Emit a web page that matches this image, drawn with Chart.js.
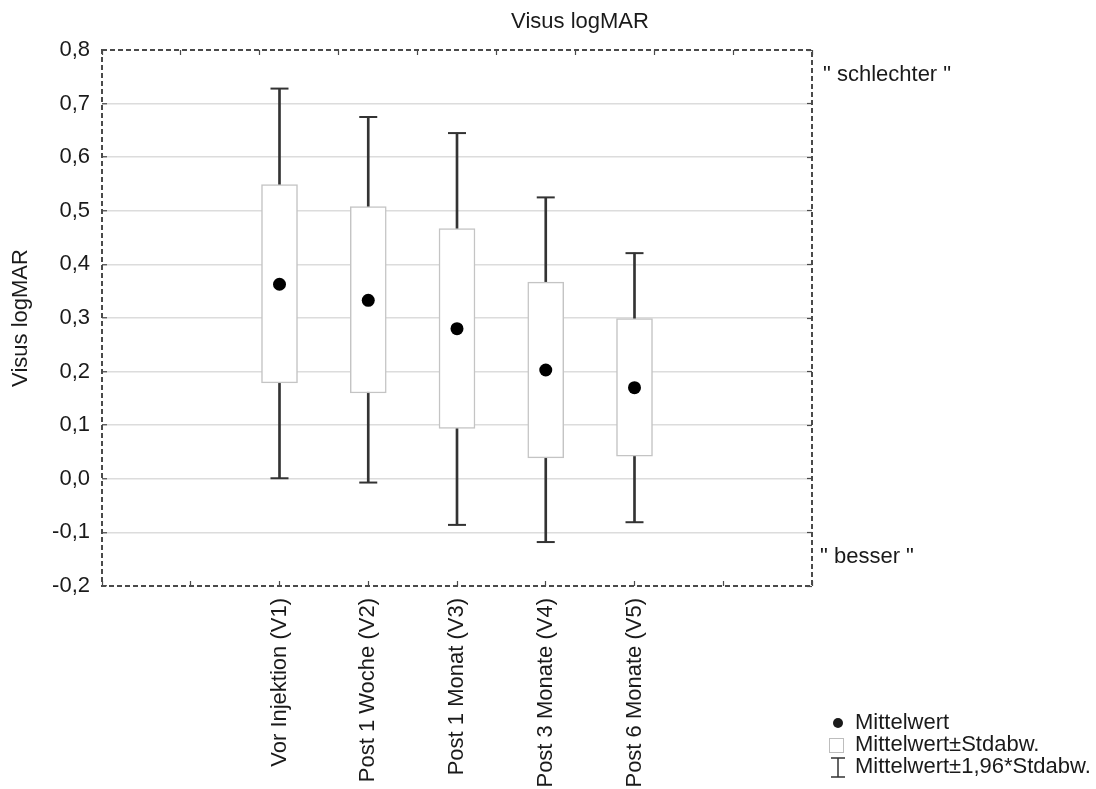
<!DOCTYPE html>
<html>
<head>
<meta charset="utf-8">
<title>Visus logMAR</title>
<script src="https://cdn.jsdelivr.net/npm/chart.js@4.4.0/dist/chart.umd.min.js"></script>
<style>
  html, body { margin: 0; padding: 0; background: #fff; }
  #chart { display: block; }
</style>
</head>
<body>
<canvas id="chart" width="1096" height="789"></canvas>
<script>
// ======== Data ========
const categories = [
  "Vor Injektion (V1)",
  "Post 1 Woche (V2)",
  "Post 1 Monat (V3)",
  "Post 3 Monate (V4)",
  "Post 6 Monate (V5)",
];
const catPositions = [2, 3, 4, 5, 6]; // x slots on the 0..8 axis
const means = [0.363, 0.333, 0.28, 0.203, 0.17];
const sdLow = [0.179, 0.16, 0.094, 0.039, 0.042];
const sdHigh = [0.549, 0.508, 0.467, 0.367, 0.299];
const ciLow = [0.001, -0.007, -0.086, -0.118, -0.081];
const ciHigh = [0.728, 0.675, 0.645, 0.525, 0.421];
const yTicks = { min: -0.2, max: 0.8, step: 0.1 };

const FONT = "'Liberation Sans', Arial, sans-serif";
const TEXT = "#1a1a1a";
const FRAME = "#4a4a4a";

// helpers
const commaNum = (v) => v.toFixed(1).replace(".", ",");
const isEdge = (v) =>
  Math.abs(v - yTicks.min) < 1e-6 || Math.abs(v - yTicks.max) < 1e-6;

// -------------------------
// Dashed frame round the plot area (axis borders are always solid in v4)
// -------------------------
const dashedFrame = {
  id: "dashedFrame",
  beforeDatasetsDraw(chart) {
    const { ctx, chartArea: a } = chart;
    ctx.save();
    ctx.strokeStyle = FRAME;
    ctx.lineWidth = 2;
    ctx.setLineDash([5, 3]);
    ctx.strokeRect(a.left, a.top, a.right - a.left, a.bottom - a.top);
    ctx.restore();
  },
};

// -------------------------
// Extra text: title, side notes, legend
// -------------------------
const annotations = {
  id: "annotations",
  afterDraw(chart) {
    const ctx = chart.ctx;
    ctx.save();
    ctx.fillStyle = TEXT;
    ctx.font = "22px " + FONT;

    ctx.textAlign = "center";
    ctx.textBaseline = "alphabetic";
    ctx.fillText("Visus logMAR", 580, 28);

    ctx.textAlign = "left";
    ctx.textBaseline = "middle";
    ctx.fillText('" schlechter "', 823, 75);
    ctx.fillText('" besser "', 820, 557);

    // legend
    ctx.beginPath();
    ctx.arc(838, 723, 5, 0, Math.PI * 2);
    ctx.fill();
    ctx.fillText("Mittelwert", 855, 723);

    ctx.fillStyle = "#fff";
    ctx.fillRect(829.5, 738.5, 14, 14);
    ctx.strokeStyle = "#bdbdbd";
    ctx.lineWidth = 1;
    ctx.strokeRect(829.5, 738.5, 14, 14);
    ctx.fillStyle = TEXT;
    ctx.fillText("Mittelwert\u00b1Stdabw.", 855, 745);

    ctx.strokeStyle = "#333";
    ctx.lineWidth = 1.5;
    ctx.beginPath();
    ctx.moveTo(831, 758); ctx.lineTo(845, 758);
    ctx.moveTo(838, 758); ctx.lineTo(838, 777);
    ctx.moveTo(831, 777); ctx.lineTo(845, 777);
    ctx.stroke();
    ctx.fillText("Mittelwert\u00b11,96*Stdabw.", 855, 767);

    ctx.restore();
  },
};

// ======== Datasets ========
const meanData = catPositions.map((x, i) => ({ x, y: means[i] }));
const capData = catPositions
  .map((x, i) => [{ x, y: ciHigh[i] }, { x, y: ciLow[i] }])
  .flat();
const boxData = catPositions.map((x, i) => ({ x, y: [sdLow[i], sdHigh[i]] }));
const whiskerData = catPositions.map((x, i) => ({ x, y: [ciLow[i], ciHigh[i]] }));

const noBorder = { display: false };

new Chart(document.getElementById("chart").getContext("2d"), {
  type: "bar",
  data: {
    datasets: [
      {
        type: "scatter",
        label: "Mittelwert",
        data: meanData,
        pointStyle: "circle",
        pointRadius: 6.5,
        pointBorderWidth: 0,
        backgroundColor: "#000",
        order: 0,
      },
      {
        type: "scatter",
        label: "caps",
        data: capData,
        pointStyle: "line",
        pointRadius: 9,
        pointBorderWidth: 2,
        borderColor: "#333",
        order: 1,
      },
      {
        label: "Mittelwert\u00b1Stdabw.",
        data: boxData,
        backgroundColor: "#fff",
        borderColor: "#c4c4c4",
        borderWidth: 1.5,
        borderSkipped: false,
        barThickness: 36,
        grouped: false,
        order: 2,
      },
      {
        label: "Mittelwert\u00b11,96*Stdabw.",
        data: whiskerData,
        backgroundColor: "#333",
        borderWidth: 0,
        barThickness: 2,
        grouped: false,
        order: 3,
      },
    ],
  },
  options: {
    responsive: false,
    animation: false,
    layout: { padding: { top: 50, right: 284, left: 0, bottom: 0 } },
    plugins: {
      legend: { display: false },
      title: { display: false },
      tooltip: { enabled: false },
    },
    scales: {
      x: {
        type: "linear",
        position: "bottom",
        min: 0,
        max: 8,
        offset: false,
        grid: {
          display: true,
          offset: false,
          drawOnChartArea: false,
          drawTicks: true,
          tickLength: -5,
          tickColor: FRAME,
          tickWidth: 1.2,
        },
        border: noBorder,
        ticks: {
          stepSize: 1,
          autoSkip: false,
          minRotation: 90,
          maxRotation: 90,
          padding: 17,
          color: TEXT,
          font: { family: FONT, size: 22 },
          callback: (v) => {
            const i = catPositions.indexOf(v);
            return i >= 0 ? categories[i] : "";
          },
        },
        afterFit: (scale) => { scale.height = 203; },
      },
      x2: {
        type: "linear",
        position: "top",
        min: 0,
        max: 8,
        grid: {
          display: true,
          drawOnChartArea: false,
          drawTicks: true,
          tickLength: -5,
          tickColor: FRAME,
          tickWidth: 1.2,
        },
        border: noBorder,
        ticks: { display: false, stepSize: 1 },
        afterFit: (scale) => { scale.height = 0; },
      },
      y: {
        type: "linear",
        position: "left",
        min: yTicks.min,
        max: yTicks.max,
        grid: {
          color: (c) => (isEdge(c.tick.value) ? "rgba(0,0,0,0)" : "#dcdcdc"),
          lineWidth: 1.5,
          drawTicks: true,
          tickLength: -5,
          tickColor: FRAME,
          tickWidth: 1.2,
        },
        border: noBorder,
        ticks: {
          stepSize: yTicks.step,
          padding: 17,
          color: TEXT,
          font: { family: FONT, size: 22 },
          callback: (v) => commaNum(v),
        },
        title: {
          display: true,
          text: "Visus logMAR",
          color: TEXT,
          font: { family: FONT, size: 22 },
          padding: { top: 8, bottom: 0 },
        },
        afterFit: (scale) => { scale.width = 102; },
      },
      y2: {
        type: "linear",
        position: "right",
        min: yTicks.min,
        max: yTicks.max,
        grid: {
          display: true,
          drawOnChartArea: false,
          drawTicks: true,
          tickLength: -5,
          tickColor: FRAME,
          tickWidth: 1.2,
        },
        border: noBorder,
        ticks: { display: false, stepSize: yTicks.step },
        afterFit: (scale) => { scale.width = 0; },
      },
    },
  },
  plugins: [dashedFrame, annotations],
});
</script>
</body>
</html>
